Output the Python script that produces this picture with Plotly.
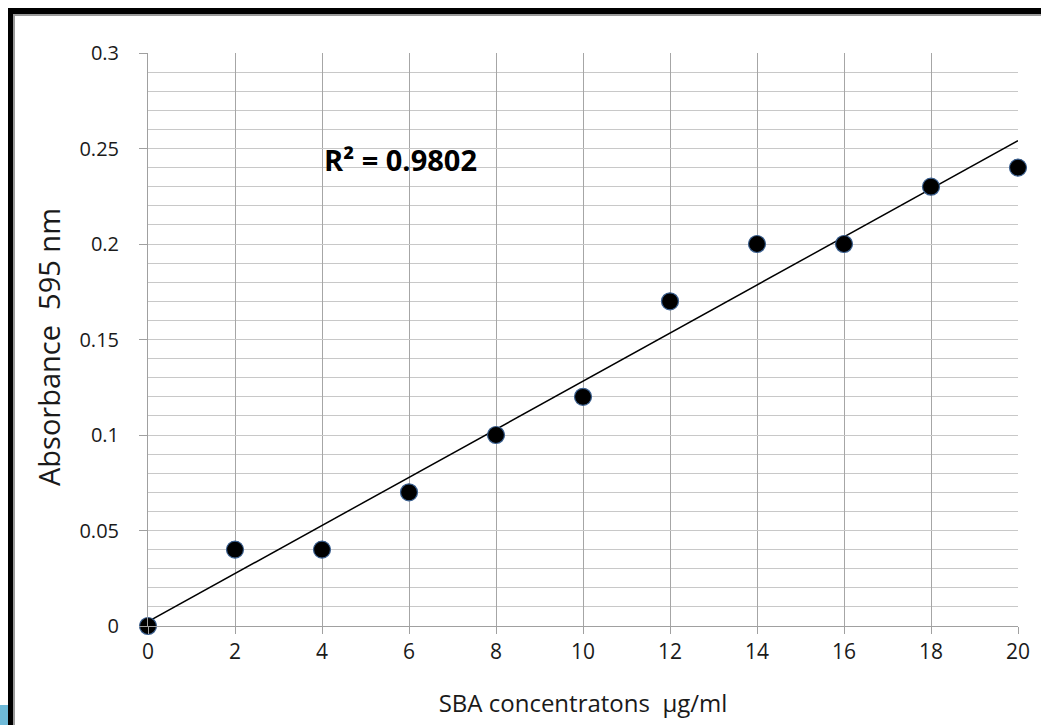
import numpy as np
import plotly.graph_objects as go

concentration = [0, 2, 4, 6, 8, 10, 12, 14, 16, 18, 20]
absorbance = [0.0, 0.04, 0.04, 0.07, 0.10, 0.12, 0.17, 0.20, 0.20, 0.23, 0.24]
x_ticks = [0, 2, 4, 6, 8, 10, 12, 14, 16, 18, 20]
y_ticks = [0, 0.05, 0.1, 0.15, 0.2, 0.25, 0.3]
y_tick_labels = ["0", "0.05", "0.1", "0.15", "0.2", "0.25", "0.3"]

slope, intercept = np.polyfit(concentration, absorbance, 1)
pred = np.polyval([slope, intercept], concentration)
ss_res = np.sum((np.array(absorbance) - pred) ** 2)
ss_tot = np.sum((np.array(absorbance) - np.mean(absorbance)) ** 2)
r2 = 1 - ss_res / ss_tot
trend_x = [0, 20]
trend_y = [intercept, slope * 20 + intercept]

W, H = 1041, 725
L, R, T, B = 148, 23, 53, 99
pw, ph = W - L - R, H - T - B

def px(x):
    return (x - L) / pw

def py(y):
    return 1 - (y - T) / ph

FONT = "Open Sans, sans-serif"
TXT = "#1a1a1a"

fig = go.Figure()
fig.add_trace(go.Scatter(x=trend_x, y=trend_y, mode="lines",
                         line=dict(color="black", width=1.5), hoverinfo="skip"))
fig.add_trace(go.Scatter(x=concentration, y=absorbance, mode="markers",
                         marker=dict(size=17, color="black",
                                     line=dict(color="#3a5f8f", width=1.2)),
                         cliponaxis=False))

shapes = [
    dict(type="rect", xref="paper", yref="paper", x0=px(-2), x1=px(12), y0=py(728), y1=py(705),
         fillcolor="#6fbad8", line=dict(width=0), layer="above"),
    dict(type="rect", xref="paper", yref="paper", x0=px(8), x1=px(1045), y0=py(14), y1=py(8),
         fillcolor="black", line=dict(width=0), layer="above"),
    dict(type="rect", xref="paper", yref="paper", x0=px(13), x1=px(1045), y0=py(16), y1=py(14),
         fillcolor="#9a9a9a", line=dict(width=0), layer="above"),
    dict(type="rect", xref="paper", yref="paper", x0=px(8), x1=px(13), y0=py(730), y1=py(8),
         fillcolor="black", line=dict(width=0), layer="above"),
    dict(type="rect", xref="paper", yref="paper", x0=px(13), x1=px(15), y0=py(730), y1=py(14),
         fillcolor="#9a9a9a", line=dict(width=0), layer="above"),
]

fig.update_layout(
    width=W, height=H,
    margin=dict(l=L, r=R, t=T, b=B),
    paper_bgcolor="white", plot_bgcolor="white",
    showlegend=False,
    font=dict(family=FONT, color=TXT),
    shapes=shapes,
    annotations=[
        dict(x=4.0, y=0.2445, xref="x", yref="y", xanchor="left", yanchor="middle",
             text="<b>R² = %.4f</b>" % r2, showarrow=False,
             font=dict(size=29, color="black", family=FONT)),
        dict(x=px(48), y=py(347), xref="paper", yref="paper", xanchor="center", yanchor="middle",
             text="Absorbance  595 nm", textangle=-90, showarrow=False,
             font=dict(size=29, color=TXT, family=FONT)),
    ],
)
fig.update_xaxes(
    range=[0, 20], tickvals=x_ticks, ticktext=[str(v) for v in x_ticks],
    showgrid=True, gridcolor="#a6a6a6", gridwidth=1,
    showline=True, linecolor="#a0a0a0", linewidth=1,
    ticks="outside", ticklen=7, tickcolor="#a0a0a0", ticklabelstandoff=0,
    tickfont=dict(size=21, color=TXT, family=FONT), zeroline=False,
    title=dict(text="SBA concentratons  µg/ml", font=dict(size=24, color=TXT, family=FONT), standoff=30),
)
fig.update_yaxes(
    range=[0, 0.3], tickvals=y_ticks, ticktext=y_tick_labels,
    showgrid=True, gridcolor="#c8c8c8", gridwidth=1,
    minor=dict(dtick=0.01, showgrid=True, gridcolor="#c8c8c8", gridwidth=1, ticks=""),
    showline=True, linecolor="#a0a0a0", linewidth=1,
    ticks="outside", ticklen=8, tickcolor="#a0a0a0", ticklabelstandoff=16,
    tickfont=dict(size=20, color=TXT, family=FONT), zeroline=False,
)

fig.write_html("out.html", config={"displayModeBar": False},
               post_script="document.body.style.margin='0';document.body.style.overflow='hidden';")
